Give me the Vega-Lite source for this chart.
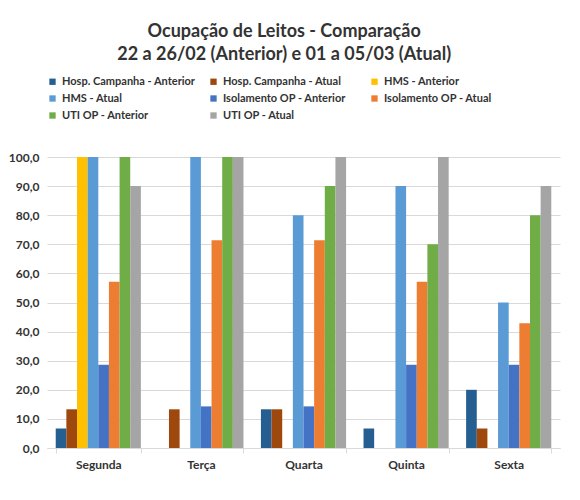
{
  "$schema": "https://vega.github.io/schema/vega-lite/v6.json",
  "width": 513,
  "height": 291,
  "padding": {"left": 8, "top": 23, "right": 20, "bottom": 10},
  "background": "white",
  "title": {
    "text": ["Ocupação de Leitos - Comparação", "22 a 26/02 (Anterior) e 01 a 05/03 (Atual)"],
    "anchor": "middle",
    "frame": "bounds",
    "font": "Lato",
    "fontSize": 18,
    "fontWeight": "bold",
    "color": "#333333",
    "lineHeight": 23,
    "offset": 12
  },
  "data": {
    "values": [
      {"dia": "Segunda", "serie": "Hosp. Campanha - Anterior", "valor": 6.7},
      {"dia": "Segunda", "serie": "Hosp. Campanha - Atual", "valor": 13.3},
      {"dia": "Segunda", "serie": "HMS - Anterior", "valor": 100},
      {"dia": "Segunda", "serie": "HMS - Atual", "valor": 100},
      {"dia": "Segunda", "serie": "Isolamento OP - Anterior", "valor": 28.6},
      {"dia": "Segunda", "serie": "Isolamento OP - Atual", "valor": 57.1},
      {"dia": "Segunda", "serie": "UTI OP - Anterior", "valor": 100},
      {"dia": "Segunda", "serie": " UTI OP - Atual", "valor": 90},
      {"dia": "Terça", "serie": "Hosp. Campanha - Anterior", "valor": 0},
      {"dia": "Terça", "serie": "Hosp. Campanha - Atual", "valor": 13.3},
      {"dia": "Terça", "serie": "HMS - Anterior", "valor": 0},
      {"dia": "Terça", "serie": "HMS - Atual", "valor": 100},
      {"dia": "Terça", "serie": "Isolamento OP - Anterior", "valor": 14.3},
      {"dia": "Terça", "serie": "Isolamento OP - Atual", "valor": 71.4},
      {"dia": "Terça", "serie": "UTI OP - Anterior", "valor": 100},
      {"dia": "Terça", "serie": " UTI OP - Atual", "valor": 100},
      {"dia": "Quarta", "serie": "Hosp. Campanha - Anterior", "valor": 13.3},
      {"dia": "Quarta", "serie": "Hosp. Campanha - Atual", "valor": 13.3},
      {"dia": "Quarta", "serie": "HMS - Anterior", "valor": 0},
      {"dia": "Quarta", "serie": "HMS - Atual", "valor": 80},
      {"dia": "Quarta", "serie": "Isolamento OP - Anterior", "valor": 14.3},
      {"dia": "Quarta", "serie": "Isolamento OP - Atual", "valor": 71.4},
      {"dia": "Quarta", "serie": "UTI OP - Anterior", "valor": 90},
      {"dia": "Quarta", "serie": " UTI OP - Atual", "valor": 100},
      {"dia": "Quinta", "serie": "Hosp. Campanha - Anterior", "valor": 6.7},
      {"dia": "Quinta", "serie": "Hosp. Campanha - Atual", "valor": 0},
      {"dia": "Quinta", "serie": "HMS - Anterior", "valor": 0},
      {"dia": "Quinta", "serie": "HMS - Atual", "valor": 90},
      {"dia": "Quinta", "serie": "Isolamento OP - Anterior", "valor": 28.6},
      {"dia": "Quinta", "serie": "Isolamento OP - Atual", "valor": 57.1},
      {"dia": "Quinta", "serie": "UTI OP - Anterior", "valor": 70},
      {"dia": "Quinta", "serie": " UTI OP - Atual", "valor": 100},
      {"dia": "Sexta", "serie": "Hosp. Campanha - Anterior", "valor": 20},
      {"dia": "Sexta", "serie": "Hosp. Campanha - Atual", "valor": 6.7},
      {"dia": "Sexta", "serie": "HMS - Anterior", "valor": 0},
      {"dia": "Sexta", "serie": "HMS - Atual", "valor": 50},
      {"dia": "Sexta", "serie": "Isolamento OP - Anterior", "valor": 28.6},
      {"dia": "Sexta", "serie": "Isolamento OP - Atual", "valor": 42.9},
      {"dia": "Sexta", "serie": "UTI OP - Anterior", "valor": 80},
      {"dia": "Sexta", "serie": " UTI OP - Atual", "valor": 90}
    ]
  },
  "mark": {"type": "bar"},
  "encoding": {
    "x": {
      "field": "dia",
      "type": "nominal",
      "sort": null,
      "title": null,
      "scale": {"paddingInner": 0.17, "paddingOuter": 0.085},
      "axis": {
        "labelAngle": 0,
        "labelFont": "Lato",
        "labelFontWeight": "bold",
        "labelFontSize": 12,
        "labelColor": "#333333",
        "labelPadding": 6,
        "domainColor": "#D9D9D9",
        "tickColor": "#D9D9D9",
        "tickBand": "extent",
        "tickSize": 5
      }
    },
    "xOffset": {
      "field": "serie",
      "type": "nominal",
      "scale": {
        "domain": ["Hosp. Campanha - Anterior", "Hosp. Campanha - Atual", "HMS - Anterior", "HMS - Atual", "Isolamento OP - Anterior", "Isolamento OP - Atual", "UTI OP - Anterior", " UTI OP - Atual"],
        "paddingInner": 0,
        "paddingOuter": 0
      }
    },
    "y": {
      "field": "valor",
      "type": "quantitative",
      "title": null,
      "scale": {"domain": [0, 100]},
      "axis": {
        "values": [0, 10, 20, 30, 40, 50, 60, 70, 80, 90, 100],
        "labelExpr": "replace(format(datum.value, '.1f'), '.', ',')",
        "labelFont": "Lato",
        "labelFontWeight": "bold",
        "labelFontSize": 12,
        "labelColor": "#333333",
        "labelPadding": 8,
        "ticks": false,
        "domain": false,
        "gridColor": "#D9D9D9"
      }
    },
    "color": {
      "field": "serie",
      "type": "nominal",
      "title": null,
      "scale": {
        "domain": ["Hosp. Campanha - Anterior", "Hosp. Campanha - Atual", "HMS - Anterior", "HMS - Atual", "Isolamento OP - Anterior", "Isolamento OP - Atual", "UTI OP - Anterior", " UTI OP - Atual"],
        "range": ["#255E91", "#9E480E", "#FFC000", "#5B9BD5", "#4472C4", "#ED7D31", "#70AD47", "#A5A5A5"]
      },
      "legend": {
        "orient": "top",
        "direction": "horizontal",
        "columns": 3,
        "gridAlign": "all",
        "columnPadding": 12,
        "rowPadding": 5,
        "symbolType": "square",
        "symbolSize": 40,
        "symbolStrokeWidth": 0,
        "labelFont": "Lato",
        "labelFontWeight": "bold",
        "labelFontSize": 11,
        "labelColor": "#333333",
        "labelLimit": 200,
        "offset": 36
      }
    }
  },
  "config": {
    "view": {"stroke": null},
    "font": "Lato"
  }
}
